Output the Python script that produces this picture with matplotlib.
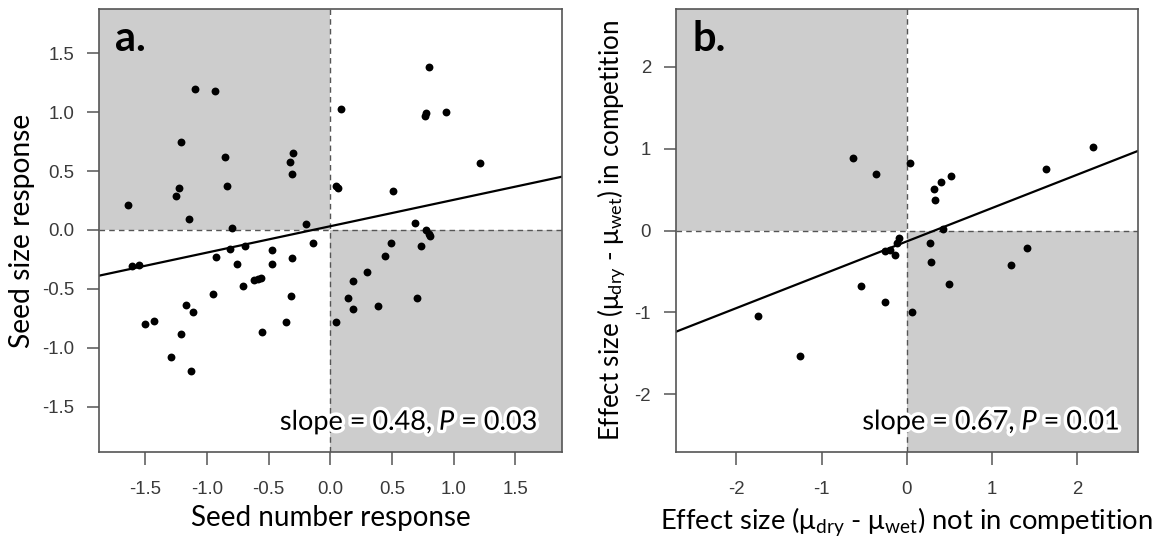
import numpy as np
import matplotlib
matplotlib.use("Agg")
import matplotlib.pyplot as plt
import matplotlib.patheffects as pe

# === DATA ===
# panel a: seed number response vs seed size response
a_x = [-1.10, -0.935, -1.21, -0.85, -0.30, -0.33, -0.31, -1.23, -1.25, -0.84,
       -1.64, -1.15, -0.80, -0.20, -0.14,
       0.089, 0.80, 0.77, 0.78, 0.94, 1.214, 0.05, 0.065, 0.51, 0.687,
       0.776, 0.80, 0.81, 0.49, 0.733,
       -1.61, -1.55, -0.927, -0.81, -0.69, -0.475, -0.76, -0.475, -0.31, -0.71,
       -0.62, -0.59, -0.565, -0.954, -0.32, -1.17, -1.116, -1.50, -1.43, -1.21,
       -0.36, -0.554, -1.29, -1.127, 0.049,
       0.444, 0.295, 0.187, 0.141, 0.187, 0.384, 0.706]
a_y = [1.20, 1.18, 0.75, 0.62, 0.65, 0.575, 0.476, 0.354, 0.29, 0.374,
       0.21, 0.096, 0.014, 0.048, -0.11,
       1.03, 1.385, 0.97, 0.99, 1.0, 0.567, 0.37, 0.354, 0.334, 0.057,
       0.0, -0.03, -0.05, -0.108, -0.14,
       -0.306, -0.297, -0.23, -0.159, -0.139, -0.17, -0.29, -0.29, -0.24, -0.476,
       -0.425, -0.42, -0.41, -0.54, -0.56, -0.64, -0.70, -0.80, -0.77, -0.88,
       -0.78, -0.864, -1.08, -1.20, -0.78,
       -0.22, -0.354, -0.433, -0.578, -0.67, -0.65, -0.578]
a_fit = (0.032, 0.224)  # intercept, slope of drawn line

# panel b: effect size not in competition vs in competition
b_x = [-0.627, -0.364, 0.039, -0.087, -0.117, -0.255, -0.196, -0.134, -0.536,
       -0.251, 0.058, -1.749, -1.252, 0.516, 0.406, 0.317, 0.336, 1.631, 2.183,
       0.422, 0.27, 0.282, 1.408, 1.228, 0.496]
b_y = [0.889, 0.694, 0.828, -0.095, -0.156, -0.246, -0.238, -0.30, -0.678,
       -0.873, -1.00, -1.044, -1.532, 0.669, 0.596, 0.507, 0.372, 0.755, 1.02,
       0.022, -0.156, -0.388, -0.21, -0.417, -0.649]
b_fit = (-0.133, 0.407)

a_ticks = [-1.5, -1.0, -0.5, 0.0, 0.5, 1.0, 1.5]
a_ticklabels = ["-1.5", "-1.0", "-0.5", "0.0", "0.5", "1.0", "1.5"]
b_ticks = [-2, -1, 0, 1, 2]
b_ticklabels = ["-2", "-1", "0", "1", "2"]

plt.rcParams['mathtext.fontset'] = 'custom'
plt.rcParams['mathtext.rm'] = 'Lato'
plt.rcParams['mathtext.it'] = 'Lato:italic'

LABEL_FONT = ['Lato', 'DejaVu Sans']
TICK_FONT = 'Liberation Sans'
FRAME = '#555555'
SHADE = '#cdcdcd'


def draw_panel(ax, x, y, fit, lim, ticks, ticklabels, letter, stat, stat_x,
               xlabel, ylabel, xsize, ysize):
    xlo, xhi = lim[0]
    ylo, yhi = lim[1]
    ax.set_xlim(xlo, xhi)
    ax.set_ylim(ylo, yhi)

    # shaded quadrants (top-left and bottom-right)
    ax.fill_between([xlo, 0], 0, yhi, color=SHADE, lw=0, zorder=0)
    ax.fill_between([0, xhi], ylo, 0, color=SHADE, lw=0, zorder=0)
    ax.axhline(0, color=FRAME, lw=1.0, ls=(0, (4, 3)), zorder=1)
    ax.axvline(0, color=FRAME, lw=1.0, ls=(0, (4, 3)), zorder=1)

    xs = np.array([xlo, xhi])
    ax.plot(xs, fit[0] + fit[1] * xs, color='black', lw=1.6, zorder=2)
    ax.scatter(x, y, s=32, color='black', lw=0, zorder=3)

    ax.set_xticks(ticks)
    ax.set_xticklabels(ticklabels)
    ax.set_yticks(ticks)
    ax.set_yticklabels(ticklabels)
    ax.tick_params(length=9, width=1.1, color=FRAME, labelsize=13.4,
                   labelcolor='#3a3a3a', pad=9)
    ax.tick_params(axis='x', pad=12)
    for lab in ax.get_xticklabels() + ax.get_yticklabels():
        lab.set_fontfamily(TICK_FONT)
    for sp in ax.spines.values():
        sp.set_color(FRAME)
        sp.set_linewidth(1.2)

    ax.text(0.035, 0.975, letter, transform=ax.transAxes, ha='left', va='top',
            fontsize=30, fontweight='bold', family=LABEL_FONT)
    ax.text(stat_x, 0.05, stat, transform=ax.transAxes, ha='right', va='baseline',
            fontsize=19.5, family=LABEL_FONT,
            path_effects=[pe.withStroke(linewidth=5, foreground='white')])
    ax.set_xlabel(xlabel, fontsize=xsize, family=LABEL_FONT, labelpad=5)
    ax.set_ylabel(ylabel, fontsize=ysize, family=LABEL_FONT, labelpad=5)


fig = plt.figure(figsize=(11.62, 5.38), dpi=100)
ax_a = fig.add_axes([0.0852, 0.1599, 0.3984, 0.8228])
ax_b = fig.add_axes([0.5818, 0.1604, 0.3973, 0.8223])

draw_panel(ax_a, a_x, a_y, a_fit, ((-1.876, 1.879), (-1.886, 1.875)),
           a_ticks, a_ticklabels, 'a.', r'slope = 0.48, $\mathit{P}$ = 0.03', 0.949,
           'Seed number response', 'Seed size response', 20, 20.3)
draw_panel(ax_b, b_x, b_y, b_fit, ((-2.708, 2.711), (-2.70, 2.70)),
           b_ticks, b_ticklabels, 'b.', r'slope = 0.67, $\mathit{P}$ = 0.01', 0.962,
           r'Effect size (μ$_{\mathrm{dry}}$ - μ$_{\mathrm{wet}}$) not in competition',
           r'Effect size (μ$_{\mathrm{dry}}$ - μ$_{\mathrm{wet}}$) in competition',
           19.7, 18.6)

fig.savefig('out.png', dpi=100)
